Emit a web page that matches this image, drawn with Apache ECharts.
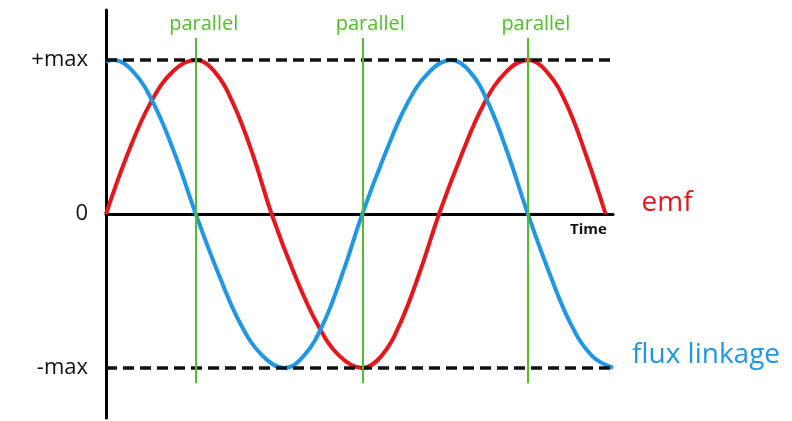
<!DOCTYPE html>
<html>
<head>
<meta charset="utf-8">
<script src="https://cdn.jsdelivr.net/npm/echarts@6/dist/echarts.min.js"></script>
<style>
  html, body { margin: 0; padding: 0; background: #fff; }
  #chart { width: 792px; height: 421px; }
</style>
</head>
<body>
<div id="chart"></div>
<script>
// time in degrees of rotation, values as fraction of max
const emfPoints = [
  [0, 0], [24, 0.40], [48, 0.72], [73, 0.93], [97, 1],
  [118, 0.92], [138, 0.71], [159, 0.38], [179, 0],
  [203, -0.38], [228, -0.71], [252, -0.92], [277, -1],
  [298, -0.92], [318, -0.71], [339, -0.38], [360, 0],
  [384, 0.38], [408, 0.71], [432, 0.92], [456, 1],
  [477, 0.92], [498, 0.71], [519, 0.38], [540, 0]
]
const fluxPoints = [
  [0, 0.99], [8, 1],
  [30, 0.92], [52, 0.71], [75, 0.38], [97, 0],
  [121, -0.38], [145, -0.71], [169, -0.92], [193, -1],
  [214, -0.92], [235, -0.71], [256, -0.38], [277, 0],
  [301, 0.38], [325, 0.71], [349, 0.92], [373, 1],
  [394, 0.92], [414, 0.71], [435, 0.38], [456, 0],
  [479, -0.38], [502, -0.71], [525, -0.92], [548, -1]
]
const parallelTimes = [97, 277, 456]
const yTicks = [-1, 0, 1]
const yTickLabels = { '-1': '-max', '0': '0', '1': '+max' }

const font = 'Open Sans'
const red = '#e8161b'
const blue = '#1f97e4'
const green = '#4fc02a'

const chart = echarts.init(document.getElementById('chart'))

chart.setOption({
  animation: false,
  grid: { left: 106, right: 179, top: 10, bottom: 3 },
  xAxis: {
    type: 'value',
    min: 0,
    max: 548,
    name: 'Time',
    nameLocation: 'end',
    nameGap: -43,
    nameTextStyle: {
      fontFamily: font, fontSize: 15, fontWeight: 'bold', color: '#111',
      verticalAlign: 'top', padding: [8, 0, 0, 0]
    },
    axisLine: { onZero: true, lineStyle: { color: '#000', width: 3 } },
    axisTick: { show: false },
    axisLabel: { show: false },
    splitLine: { show: false }
  },
  yAxis: {
    type: 'value',
    min: -1.325,
    max: 1.325,
    axisLine: { show: true, lineStyle: { color: '#000', width: 3 } },
    axisTick: { show: false },
    splitLine: { show: false },
    axisLabel: {
      customValues: yTicks,
      formatter: v => yTickLabels[String(v)],
      margin: 18,
      fontFamily: font,
      fontSize: 22,
      color: '#111'
    }
  },
  series: [
    {
      name: 'emf',
      type: 'line',
      data: emfPoints,
      smooth: 0.4,
      showSymbol: false,
      lineStyle: { color: red, width: 4 },
      itemStyle: { color: red },
      z: 3,
      endLabel: {
        show: true,
        formatter: '{a}',
        offset: [28, -11],
        fontFamily: font,
        fontSize: 28,
        color: red
      },
      markLine: {
        silent: true,
        symbol: 'none',
        lineStyle: { color: '#111', type: [11, 6], width: 3.5 },
        label: { show: false },
        data: [{ yAxis: 1 }, { yAxis: -1 }]
      }
    },
    {
      name: 'flux linkage',
      type: 'line',
      data: fluxPoints,
      smooth: 0.4,
      showSymbol: false,
      lineStyle: { color: blue, width: 4 },
      itemStyle: { color: blue },
      z: 3,
      endLabel: {
        show: true,
        formatter: '{a}',
        offset: [11, -13],
        fontFamily: font,
        fontSize: 28,
        color: blue
      },
      markLine: {
        silent: true,
        symbol: 'none',
        lineStyle: { color: green, type: 'solid', width: 2 },
        label: {
          show: true,
          position: 'end',
          formatter: 'parallel',
          offset: [8, 0],
          distance: 4,
          fontFamily: font,
          fontSize: 20,
          color: green
        },
        data: parallelTimes.map(t => [
          { coord: [t, -1.1] },
          { coord: [t, 1.143] }
        ])
      }
    }
  ]
})
</script>
</body>
</html>
